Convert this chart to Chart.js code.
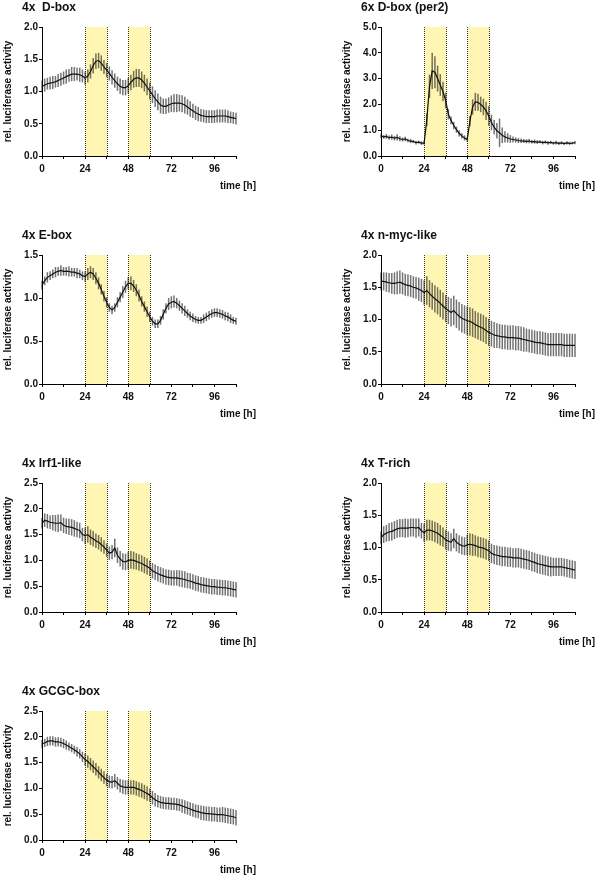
<!DOCTYPE html>
<html>
<head>
<meta charset="utf-8">
<script src="https://cdn.jsdelivr.net/npm/chart.js@4.4.1/dist/chart.umd.min.js"></script>
<style>
  html, body { margin: 0; padding: 0; background: #fff; overflow: hidden; }
  body { width: 597px; height: 879px; position: relative; }
  canvas { position: absolute; }
</style>
</head>
<body>
<script>
// sampling times (h)
const hours = [0, 1.5, 3, 4.5, 6, 7.5, 9, 10.5, 12, 13.5, 15, 16.5, 18, 19.5, 21, 22.5,
  24, 25.5, 27, 28.5, 30, 31.5, 33, 34.5, 36, 37.5, 39, 40.5, 42, 43.5, 45, 46.5,
  48, 49.5, 51, 52.5, 54, 55.5, 57, 58.5, 60, 61.5, 63, 64.5, 66, 67.5, 69, 70.5,
  72, 73.5, 75, 76.5, 78, 79.5, 81, 82.5, 84, 85.5, 87, 88.5, 90, 91.5, 93, 94.5,
  96, 97.5, 99, 100.5, 102, 103.5, 105, 106.5, 108];

const lightPhases = [[24, 36], [48, 60]];
const xLabelHours = [0, 24, 48, 72, 96];

const dboxMean = [1.08, 1.10, 1.12, 1.13, 1.14, 1.15, 1.17, 1.19, 1.21, 1.23, 1.25, 1.27, 1.27, 1.27, 1.26, 1.24,
  1.21, 1.24, 1.31, 1.40, 1.47, 1.48, 1.44, 1.38, 1.33, 1.28, 1.22, 1.17, 1.12, 1.08, 1.06, 1.06,
  1.09, 1.14, 1.19, 1.21, 1.21, 1.18, 1.13, 1.07, 1.01, 0.95, 0.89, 0.84, 0.79, 0.77, 0.77, 0.79,
  0.81, 0.82, 0.82, 0.82, 0.81, 0.79, 0.76, 0.73, 0.70, 0.67, 0.65, 0.63, 0.62, 0.61, 0.61, 0.61,
  0.61, 0.62, 0.62, 0.62, 0.62, 0.61, 0.60, 0.59, 0.58];
const dboxSd = [0.09, 0.10, 0.09, 0.10, 0.10, 0.09, 0.10, 0.10, 0.10, 0.11, 0.10, 0.11, 0.11, 0.10, 0.11, 0.10,
  0.10, 0.10, 0.11, 0.12, 0.12, 0.12, 0.12, 0.11, 0.11, 0.11, 0.11, 0.11, 0.11, 0.12, 0.12, 0.12,
  0.12, 0.12, 0.13, 0.14, 0.14, 0.13, 0.13, 0.13, 0.13, 0.13, 0.13, 0.13, 0.13, 0.12, 0.12, 0.12,
  0.13, 0.14, 0.14, 0.13, 0.13, 0.13, 0.12, 0.12, 0.11, 0.11, 0.11, 0.10, 0.10, 0.10, 0.10, 0.10,
  0.10, 0.10, 0.10, 0.10, 0.10, 0.10, 0.09, 0.09, 0.09];

const per2Mean = [0.78, 0.74, 0.76, 0.71, 0.73, 0.69, 0.72, 0.67, 0.64, 0.66, 0.60, 0.58, 0.56, 0.52, 0.54, 0.50,
  0.50, 1.40, 2.70, 3.30, 3.25, 3.00, 2.75, 2.50, 2.15, 1.62, 1.38, 1.18, 1.02, 0.88, 0.78, 0.70,
  0.64, 1.35, 1.90, 2.10, 2.08, 2.00, 1.90, 1.75, 1.55, 1.30, 1.12, 0.98, 0.90, 0.80, 0.74, 0.70,
  0.66, 0.64, 0.62, 0.60, 0.59, 0.58, 0.57, 0.58, 0.55, 0.56, 0.54, 0.55, 0.52, 0.54, 0.51, 0.53,
  0.50, 0.52, 0.49, 0.51, 0.48, 0.51, 0.49, 0.50, 0.52];
const per2Sd = [0.08, 0.07, 0.09, 0.08, 0.10, 0.09, 0.12, 0.10, 0.08, 0.09, 0.07, 0.08, 0.06, 0.07, 0.06, 0.07,
  0.06, 0.25, 0.45, 0.70, 0.62, 0.50, 0.42, 0.38, 0.30, 0.20, 0.15, 0.14, 0.12, 0.12, 0.10, 0.10,
  0.09, 0.20, 0.30, 0.35, 0.33, 0.30, 0.32, 0.35, 0.38, 0.30, 0.28, 0.30, 0.55, 0.30, 0.22, 0.18,
  0.15, 0.12, 0.10, 0.10, 0.09, 0.08, 0.08, 0.09, 0.07, 0.08, 0.07, 0.06, 0.07, 0.06, 0.07, 0.06,
  0.06, 0.07, 0.06, 0.06, 0.05, 0.06, 0.06, 0.05, 0.06];

const eboxMean = [1.15, 1.20, 1.24, 1.26, 1.28, 1.30, 1.31, 1.32, 1.31, 1.31, 1.31, 1.30, 1.30, 1.29, 1.28, 1.26,
  1.25, 1.28, 1.30, 1.28, 1.23, 1.17, 1.10, 1.02, 0.95, 0.89, 0.86, 0.89, 0.95, 1.01, 1.07, 1.13,
  1.17, 1.17, 1.14, 1.09, 1.03, 0.96, 0.90, 0.84, 0.78, 0.73, 0.70, 0.70, 0.74, 0.81, 0.88, 0.93,
  0.95, 0.96, 0.94, 0.91, 0.88, 0.85, 0.82, 0.79, 0.77, 0.75, 0.74, 0.74, 0.76, 0.78, 0.80, 0.82,
  0.83, 0.83, 0.82, 0.81, 0.79, 0.78, 0.76, 0.74, 0.73];
const eboxSd = [0.05, 0.05, 0.06, 0.05, 0.05, 0.06, 0.05, 0.06, 0.05, 0.05, 0.06, 0.05, 0.05, 0.06, 0.05, 0.05,
  0.06, 0.07, 0.07, 0.07, 0.07, 0.07, 0.06, 0.06, 0.06, 0.05, 0.05, 0.05, 0.06, 0.06, 0.07, 0.07,
  0.07, 0.08, 0.07, 0.07, 0.07, 0.06, 0.06, 0.06, 0.06, 0.05, 0.05, 0.05, 0.05, 0.06, 0.06, 0.07,
  0.07, 0.07, 0.06, 0.06, 0.06, 0.06, 0.05, 0.05, 0.05, 0.04, 0.04, 0.04, 0.05, 0.05, 0.05, 0.05,
  0.05, 0.05, 0.05, 0.05, 0.05, 0.05, 0.05, 0.04, 0.04];

const nmycMean = [1.59, 1.59, 1.58, 1.57, 1.56, 1.56, 1.57, 1.58, 1.56, 1.54, 1.53, 1.52, 1.50, 1.49, 1.47, 1.45,
  1.42, 1.45, 1.40, 1.36, 1.32, 1.29, 1.25, 1.21, 1.17, 1.14, 1.11, 1.14, 1.09, 1.05, 1.02, 1.00,
  0.98, 0.97, 0.95, 0.92, 0.90, 0.88, 0.86, 0.83, 0.80, 0.78, 0.76, 0.75, 0.74, 0.73, 0.73, 0.72,
  0.72, 0.72, 0.71, 0.71, 0.70, 0.69, 0.68, 0.67, 0.66, 0.65, 0.64, 0.64, 0.63, 0.62, 0.61, 0.61,
  0.61, 0.61, 0.61, 0.61, 0.60, 0.60, 0.60, 0.60, 0.60];
const nmycSd = [0.14, 0.14, 0.15, 0.15, 0.16, 0.17, 0.18, 0.18, 0.17, 0.17, 0.17, 0.17, 0.17, 0.17, 0.18, 0.18,
  0.19, 0.22, 0.21, 0.21, 0.21, 0.21, 0.21, 0.21, 0.21, 0.21, 0.22, 0.23, 0.22, 0.22, 0.22, 0.22,
  0.22, 0.22, 0.22, 0.21, 0.21, 0.21, 0.21, 0.21, 0.21, 0.20, 0.20, 0.19, 0.19, 0.19, 0.19, 0.19,
  0.19, 0.19, 0.19, 0.19, 0.19, 0.19, 0.18, 0.18, 0.18, 0.18, 0.18, 0.18, 0.18, 0.18, 0.18, 0.18,
  0.18, 0.18, 0.18, 0.18, 0.18, 0.18, 0.18, 0.18, 0.18];

const irf1Mean = [1.72, 1.78, 1.76, 1.74, 1.73, 1.72, 1.72, 1.73, 1.68, 1.66, 1.65, 1.64, 1.62, 1.60, 1.58, 1.50,
  1.48, 1.50, 1.45, 1.42, 1.38, 1.35, 1.31, 1.26, 1.20, 1.14, 1.16, 1.24, 1.10, 1.03, 0.98, 0.97,
  1.00, 1.01, 1.00, 0.98, 0.96, 0.94, 0.91, 0.88, 0.85, 0.80, 0.77, 0.74, 0.72, 0.70, 0.68, 0.67,
  0.66, 0.66, 0.66, 0.65, 0.64, 0.63, 0.61, 0.60, 0.58, 0.56, 0.55, 0.53, 0.52, 0.51, 0.50, 0.49,
  0.49, 0.48, 0.48, 0.47, 0.47, 0.46, 0.45, 0.44, 0.43];
const irf1Sd = [0.10, 0.13, 0.14, 0.13, 0.15, 0.16, 0.17, 0.16, 0.15, 0.15, 0.16, 0.16, 0.16, 0.15, 0.15, 0.13,
  0.16, 0.16, 0.15, 0.15, 0.14, 0.14, 0.14, 0.13, 0.13, 0.13, 0.14, 0.18, 0.15, 0.15, 0.16, 0.16,
  0.17, 0.17, 0.17, 0.16, 0.16, 0.16, 0.16, 0.16, 0.15, 0.15, 0.15, 0.15, 0.15, 0.15, 0.15, 0.15,
  0.15, 0.15, 0.15, 0.16, 0.16, 0.16, 0.15, 0.15, 0.15, 0.15, 0.15, 0.15, 0.15, 0.15, 0.15, 0.15,
  0.15, 0.15, 0.15, 0.15, 0.15, 0.15, 0.15, 0.15, 0.15];

const trichMean = [1.15, 1.20, 1.22, 1.24, 1.25, 1.27, 1.29, 1.30, 1.30, 1.30, 1.30, 1.31, 1.31, 1.30, 1.31, 1.26,
  1.23, 1.27, 1.27, 1.26, 1.24, 1.22, 1.19, 1.16, 1.12, 1.10, 1.08, 1.14, 1.08, 1.05, 1.03, 1.02,
  1.04, 1.05, 1.04, 1.03, 1.01, 1.00, 0.99, 0.97, 0.95, 0.91, 0.89, 0.88, 0.87, 0.86, 0.86, 0.85,
  0.85, 0.84, 0.84, 0.84, 0.83, 0.82, 0.81, 0.80, 0.78, 0.77, 0.75, 0.74, 0.73, 0.72, 0.71, 0.70,
  0.70, 0.70, 0.70, 0.70, 0.69, 0.68, 0.67, 0.66, 0.65];
const trichSd = [0.10, 0.13, 0.13, 0.14, 0.14, 0.14, 0.14, 0.14, 0.14, 0.15, 0.14, 0.14, 0.14, 0.15, 0.14, 0.12,
  0.14, 0.16, 0.16, 0.16, 0.16, 0.16, 0.16, 0.15, 0.15, 0.15, 0.14, 0.15, 0.14, 0.14, 0.14, 0.14,
  0.16, 0.17, 0.17, 0.16, 0.16, 0.16, 0.16, 0.16, 0.16, 0.15, 0.15, 0.15, 0.15, 0.15, 0.15, 0.15,
  0.15, 0.15, 0.15, 0.15, 0.15, 0.15, 0.15, 0.15, 0.15, 0.15, 0.15, 0.15, 0.15, 0.15, 0.15, 0.15,
  0.14, 0.14, 0.14, 0.14, 0.14, 0.14, 0.14, 0.14, 0.14];

const gcgcMean = [1.86, 1.88, 1.91, 1.92, 1.92, 1.90, 1.90, 1.89, 1.87, 1.84, 1.81, 1.78, 1.75, 1.71, 1.67, 1.61,
  1.56, 1.52, 1.47, 1.42, 1.37, 1.31, 1.26, 1.21, 1.16, 1.13, 1.12, 1.15, 1.10, 1.05, 1.03, 1.02,
  1.02, 1.02, 1.02, 1.00, 0.98, 0.96, 0.93, 0.90, 0.87, 0.82, 0.78, 0.75, 0.73, 0.72, 0.71, 0.71,
  0.70, 0.70, 0.69, 0.68, 0.66, 0.64, 0.62, 0.60, 0.58, 0.56, 0.55, 0.53, 0.52, 0.51, 0.51, 0.50,
  0.50, 0.49, 0.49, 0.49, 0.48, 0.47, 0.46, 0.45, 0.43];
const gcgcSd = [0.08, 0.08, 0.09, 0.09, 0.09, 0.09, 0.09, 0.09, 0.09, 0.09, 0.08, 0.08, 0.08, 0.09, 0.09, 0.10,
  0.12, 0.12, 0.12, 0.12, 0.12, 0.12, 0.12, 0.12, 0.12, 0.12, 0.12, 0.13, 0.12, 0.13, 0.14, 0.14,
  0.14, 0.14, 0.14, 0.14, 0.14, 0.14, 0.14, 0.14, 0.13, 0.13, 0.13, 0.12, 0.12, 0.12, 0.12, 0.12,
  0.12, 0.12, 0.12, 0.12, 0.13, 0.13, 0.13, 0.13, 0.13, 0.13, 0.13, 0.14, 0.14, 0.14, 0.14, 0.14,
  0.14, 0.14, 0.14, 0.15, 0.15, 0.15, 0.15, 0.15, 0.15];

const panels = [
  { title: '4x  D-box', mean: dboxMean, sd: dboxSd, yMax: 2, yStep: 0.5 },
  { title: '6x D-box (per2)', mean: per2Mean, sd: per2Sd, yMax: 5, yStep: 1 },
  { title: '4x E-box', mean: eboxMean, sd: eboxSd, yMax: 1.5, yStep: 0.5 },
  { title: '4x n-myc-like', mean: nmycMean, sd: nmycSd, yMax: 2, yStep: 0.5 },
  { title: '4x Irf1-like', mean: irf1Mean, sd: irf1Sd, yMax: 2.5, yStep: 0.5 },
  { title: '4x T-rich', mean: trichMean, sd: trichSd, yMax: 2, yStep: 0.5 },
  { title: '4x GCGC-box', mean: gcgcMean, sd: gcgcSd, yMax: 2.5, yStep: 0.5 }
];

const FONT = "'Liberation Sans', Arial, Helvetica, sans-serif";
Chart.defaults.font.family = FONT;
Chart.defaults.font.weight = 'bold';
Chart.defaults.font.size = 10;
Chart.defaults.color = '#111';

const CW = 258, CH = 228;

function makePanel(p, idx) {
  const canvas = document.createElement('canvas');
  canvas.width = CW;
  canvas.height = CH;
  canvas.style.left = (idx % 2 === 0 ? 0 : 339) + 'px';
  canvas.style.top = (Math.floor(idx / 2) * 228) + 'px';
  document.body.appendChild(canvas);

  // light phases, error bars and the texts around the plot
  const decor = {
    id: 'decor',
    beforeDatasetsDraw(chart) {
      const { ctx, chartArea: a, scales: { x, y } } = chart;
      ctx.save();
      lightPhases.forEach(([from, to]) => {
        const x0 = Math.round(x.getPixelForValue(from)) + 0.5;
        const x1 = Math.round(x.getPixelForValue(to)) + 0.5;
        ctx.fillStyle = '#fff6b4';
        ctx.fillRect(x0, a.top, x1 - x0, a.bottom - a.top);
        ctx.strokeStyle = '#333';
        ctx.lineWidth = 1;
        ctx.setLineDash([1, 1]);
        [x0, x1].forEach(px => {
          ctx.beginPath();
          ctx.moveTo(px, a.top);
          ctx.lineTo(px, a.bottom);
          ctx.stroke();
        });
      });
      ctx.setLineDash([]);
      ctx.strokeStyle = 'rgba(0,0,0,0.55)';
      ctx.lineWidth = 1.5;
      hours.forEach((h, i) => {
        const px = x.getPixelForValue(h);
        ctx.beginPath();
        ctx.moveTo(px, y.getPixelForValue(p.mean[i] - p.sd[i]));
        ctx.lineTo(px, y.getPixelForValue(p.mean[i] + p.sd[i]));
        ctx.stroke();
      });
      ctx.restore();
    },
    afterDraw(chart) {
      const { ctx, chartArea: a } = chart;
      ctx.save();
      ctx.fillStyle = '#111';
      ctx.textBaseline = 'middle';
      ctx.font = 'bold 12px ' + FONT;
      ctx.textAlign = 'left';
      ctx.fillText(p.title, a.left - 20, a.top - 19);
      ctx.font = 'bold 10px ' + FONT;
      ctx.textAlign = 'right';
      ctx.fillText('time [h]', a.right + 20, a.bottom + 30);
      ctx.restore();
    }
  };

  new Chart(canvas.getContext('2d'), {
    type: 'line',
    data: {
      datasets: [{
        data: hours.map((h, i) => ({ x: h, y: p.mean[i] })),
        borderColor: '#111',
        borderWidth: 1.2,
        pointRadius: 0,
        tension: 0,
        fill: false
      }]
    },
    options: {
      responsive: false,
      animation: false,
      layout: { padding: { left: 0, top: 27, right: 22, bottom: 0 } },
      plugins: {
        legend: { display: false },
        tooltip: { enabled: false }
      },
      scales: {
        x: {
          type: 'linear',
          min: 0,
          max: 108,
          grid: { drawOnChartArea: false, drawTicks: true, tickLength: 3, color: '#000' },
          border: { color: '#000', width: 1 },
          ticks: {
            stepSize: 12,
            autoSkip: false,
            maxRotation: 0,
            padding: 4,
            color: '#111',
            callback: v => xLabelHours.includes(v) ? String(v) : ''
          },
          afterFit: s => { s.height = CH - 27 - 129; }
        },
        y: {
          min: 0,
          max: p.yMax,
          grid: { drawOnChartArea: false, drawTicks: true, tickLength: 3, color: '#000' },
          border: { color: '#000', width: 1 },
          ticks: {
            stepSize: p.yStep,
            padding: 1,
            color: '#111',
            callback: v => v.toFixed(1)
          },
          title: {
            display: true,
            text: 'rel. luciferase activity',
            color: '#111',
            font: { size: 10, weight: 'bold' },
            padding: { top: 2, bottom: 0 }
          },
          afterFit: s => { s.width = 42; }
        }
      }
    },
    plugins: [decor]
  });
}

panels.forEach(makePanel);
</script>
</body>
</html>
